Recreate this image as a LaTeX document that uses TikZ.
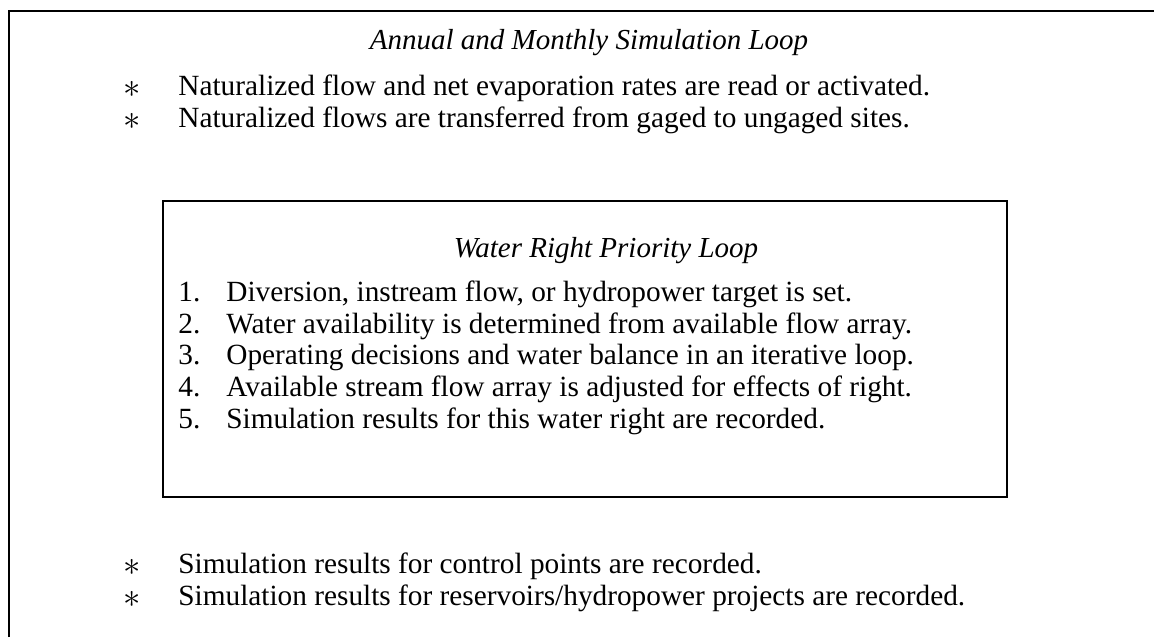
\documentclass[tikz,border=0pt]{standalone}
\usepackage{fontspec}
\setmainfont{Liberation Serif}
\begin{document}
\begin{tikzpicture}[x=0.5pt,y=-0.5pt,
  frame/.style={line width=1.1pt},
  txt/.style={anchor=base west,inner sep=0pt,font=\fontsize{14.65}{16}\selectfont},
  ast/.style={anchor=base west,inner sep=0pt,font=\fontsize{19}{16}\selectfont},
  ttl/.style={anchor=base,inner sep=0pt,font=\fontsize{14.5}{16}\selectfont\itshape}]
\useasboundingbox (0,0) rectangle (1154,637);
\draw[frame] (9,637) -- (9,11) -- (1154,11);
\node[ttl] (t1) at (589,49) {Annual and Monthly Simulation Loop};
\node[ast] (b1) at (123,97) {$\ast$};
\node[txt] (l1) at (178,95) {Naturalized flow and net evaporation rates are read or activated.};
\node[ast] (b2) at (123,129) {$\ast$};
\node[txt] (l2) at (178,127) {Naturalized flows are transferred from gaged to ungaged sites.};
\draw[frame] (163,201) rectangle (1007,497);
\node[ttl] (t2) at (606,257) {Water Right Priority Loop};
\node[txt] (n1) at (178,301) {1.};
\node[txt] (i1) at (226,301) {Diversion, instream flow, or hydropower target is set.};
\node[txt] (n2) at (178,333) {2.};
\node[txt] (i2) at (226,333) {Water availability is determined from available flow array.};
\node[txt] (n3) at (178,364) {3.};
\node[txt] (i3) at (226,364) {Operating decisions and water balance in an iterative loop.};
\node[txt] (n4) at (178,396) {4.};
\node[txt] (i4) at (226,396) {Available stream flow array is adjusted for effects of right.};
\node[txt] (n5) at (178,428) {5.};
\node[txt] (i5) at (226,428) {Simulation results for this water right are recorded.};
\node[ast] (b3) at (123,575) {$\ast$};
\node[txt] (l3) at (178,573) {Simulation results for control points are recorded.};
\node[ast] (b4) at (123,607) {$\ast$};
\node[txt] (l4) at (178,605) {Simulation results for reservoirs/hydropower projects are recorded.};
\end{tikzpicture}
\end{document}
